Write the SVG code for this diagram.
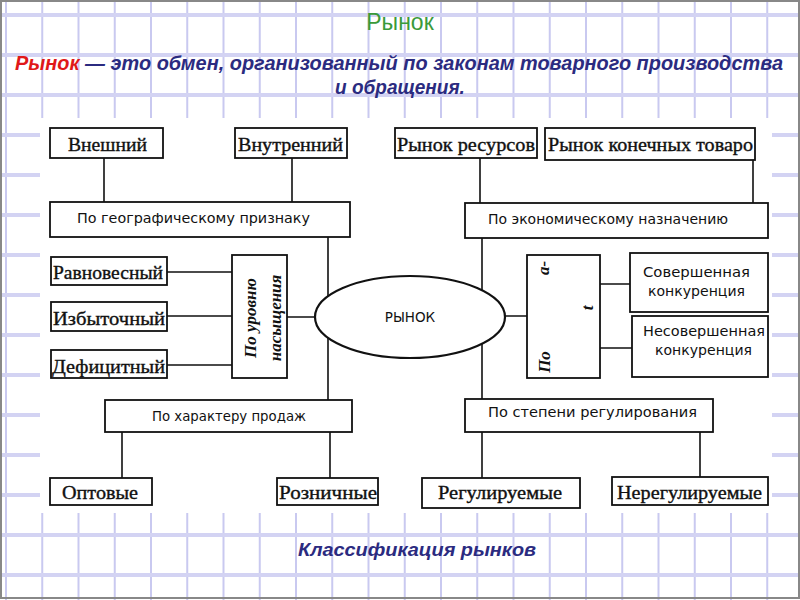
<svg xmlns="http://www.w3.org/2000/svg" width="800" height="600" viewBox="0 0 800 600">
<style>
.grid-v{stroke:#c9c9f0;stroke-width:2;fill:none}
.grid-h{stroke:#d3d3f3;stroke-width:4;fill:none}
.box{fill:#fff;stroke:#111;stroke-width:1.8}
.conn{stroke:#111;stroke-width:1.6;fill:none}
.serif{font-family:"Liberation Serif","DejaVu Serif",serif;font-size:18px;fill:#111;stroke:#111;stroke-width:0.35}
.sans{font-family:"DejaVu Sans","Liberation Sans",sans-serif;font-size:13.5px;fill:#111}
.vert{font-family:"Liberation Serif","DejaVu Serif",serif;font-size:17px;font-weight:bold;font-style:italic;fill:#111}
.head{font-family:"Liberation Sans",Arial,sans-serif;font-weight:bold;font-style:italic;fill:#2b2b80}
</style>
<rect x="0" y="0" width="800" height="600" fill="#fff"/>
<path class="grid-v" d="M6 0V600M42.25 0V600M78.5 0V600M114.75 0V600M151 0V600M187.25 0V600M223.5 0V600M259.75 0V600M296 0V600M332.25 0V600M368.5 0V600M404.75 0V600M441 0V600M477.25 0V600M513.5 0V600M549.75 0V600M586 0V600M622.25 0V600M658.5 0V600M694.75 0V600M731 0V600M767.25 0V600"/>
<path class="grid-h" d="M0 15H800M0 55H800M0 95H800M0 135H800M0 175H800M0 215H800M0 255H800M0 295H800M0 335H800M0 375H800M0 415H800M0 455H800M0 495H800M0 535H800M0 575H800"/>
<rect x="1" y="1" width="798" height="597" fill="none" stroke="#888" stroke-width="2"/>
<rect x="40" y="118" width="732" height="395" fill="#fff"/>

<g id="title">
<text x="400" y="30" text-anchor="middle" font-family="Liberation Sans, Arial, sans-serif" font-size="23" fill="#3a9a3a">Рынок</text>
</g>
<g id="definition">
<text class="head" transform="translate(15 70) scale(1 1.1)" x="0" y="0" font-size="19" textLength="768" lengthAdjust="spacingAndGlyphs"><tspan fill="#e01818">Рынок</tspan> — это обмен, организованный по законам товарного производства</text>
<text class="head" transform="translate(400 94) scale(1 1.1)" x="0" y="0" font-size="19" text-anchor="middle">и обращения.</text>
</g>
<g id="caption">
<text class="head" x="298" y="556" font-size="19" textLength="238" lengthAdjust="spacingAndGlyphs">Классификация рынков</text>
</g>

<g id="connectors">
<path class="conn" d="M104 158V202M292 158V202M480 158V203M753 160V203M328 237V400M482 238V399M167 272H232M167 316H232M167 365H232M287 317H315M504 316H527M600 284H630M600 348H632M122 432V478M330 432V478M482 432V478M700 432V477"/>
</g>

<g id="n-vneshniy"><rect class="box" x="50" y="128" width="113" height="30"/><text class="serif" x="68" y="151" textLength="79" lengthAdjust="spacingAndGlyphs">Внешний</text></g>
<g id="n-vnutrenniy"><rect class="box" x="235" y="128" width="112" height="30"/><text class="serif" x="238" y="151" textLength="105" lengthAdjust="spacingAndGlyphs">Внутренний</text></g>
<g id="n-resursy"><rect class="box" x="395" y="128" width="142" height="30"/><text class="serif" x="397" y="151" textLength="138" lengthAdjust="spacingAndGlyphs">Рынок ресурсов</text></g>
<g id="n-konechnye"><rect class="box" x="545" y="128" width="210" height="32"/><text class="serif" x="548" y="151" textLength="205" lengthAdjust="spacingAndGlyphs">Рынок конечных товаро</text></g>

<g id="n-geo"><rect class="box" x="50" y="202" width="300" height="35"/><text class="sans" x="77" y="223" textLength="233" lengthAdjust="spacingAndGlyphs">По географическому признаку</text></g>
<g id="n-econ"><rect class="box" x="465" y="203" width="303" height="35"/><text class="sans" x="488" y="224" textLength="240" lengthAdjust="spacingAndGlyphs">По экономическому назначению</text></g>

<g id="n-ravnovesny"><rect class="box" x="51" y="257" width="116" height="28"/><text class="serif" x="53" y="279" textLength="110" lengthAdjust="spacingAndGlyphs">Равновесный</text></g>
<g id="n-izbytochny"><rect class="box" x="51" y="302" width="116" height="29"/><text class="serif" x="53" y="325" textLength="112" lengthAdjust="spacingAndGlyphs">Избыточный</text></g>
<g id="n-deficitny"><rect class="box" x="51" y="350" width="116" height="28"/><text class="serif" x="52" y="373" textLength="113" lengthAdjust="spacingAndGlyphs">Дефицитный</text></g>

<g id="n-uroven"><rect class="box" x="232" y="255" width="55" height="123"/>
<text class="vert" transform="translate(256 318) rotate(-90)" text-anchor="middle">По уровню</text>
<text class="vert" transform="translate(281 318) rotate(-90)" text-anchor="middle">насыщения</text></g>

<g id="n-rynok"><ellipse cx="410" cy="317" rx="95" ry="41" fill="#fff" stroke="#111" stroke-width="2.2"/><text class="sans" x="410" y="322" text-anchor="middle" font-size="14">РЫНОК</text></g>

<g id="n-konkurencia"><rect class="box" x="527" y="255" width="73" height="123"/>
<text class="vert" transform="translate(550 362) rotate(-90)" text-anchor="middle">По</text>
<text class="vert" font-size="15" transform="translate(549 268) rotate(-90)" text-anchor="middle">а-</text>
<text class="vert" font-size="12" transform="translate(593 308) rotate(-90)" text-anchor="middle">t</text></g>

<g id="n-sovershennaya"><rect class="box" x="630" y="253" width="138" height="59"/><text class="sans" x="643" y="277" textLength="107" lengthAdjust="spacingAndGlyphs">Совершенная</text><text class="sans" x="648" y="296" textLength="97" lengthAdjust="spacingAndGlyphs">конкуренция</text></g>
<g id="n-nesovershennaya"><rect class="box" x="632" y="316" width="136" height="61"/><text class="sans" x="643" y="336" textLength="122" lengthAdjust="spacingAndGlyphs">Несовершенная</text><text class="sans" x="655" y="355" textLength="97" lengthAdjust="spacingAndGlyphs">конкуренция</text></g>

<g id="n-prodazhi"><rect class="box" x="105" y="400" width="247" height="32"/><text class="sans" x="152" y="421" textLength="154" lengthAdjust="spacingAndGlyphs">По характеру продаж</text></g>
<g id="n-regulirovanie"><rect class="box" x="465" y="399" width="248" height="33"/><text class="sans" x="488" y="417" textLength="209" lengthAdjust="spacingAndGlyphs">По степени регулирования</text></g>

<g id="n-optovye"><rect class="box" x="50" y="478" width="102" height="27"/><text class="serif" x="62" y="499" textLength="76" lengthAdjust="spacingAndGlyphs">Оптовые</text></g>
<g id="n-roznichnye"><rect class="box" x="277" y="478" width="101" height="27"/><text class="serif" x="279" y="499" textLength="98" lengthAdjust="spacingAndGlyphs">Розничные</text></g>
<g id="n-reguliruemye"><rect class="box" x="422" y="478" width="158" height="30"/><text class="serif" x="438" y="499" textLength="124" lengthAdjust="spacingAndGlyphs">Регулируемые</text></g>
<g id="n-nereguliruemye"><rect class="box" x="612" y="477" width="156" height="28"/><text class="serif" x="617" y="499" textLength="145" lengthAdjust="spacingAndGlyphs">Нерегулируемые</text></g>
</svg>
